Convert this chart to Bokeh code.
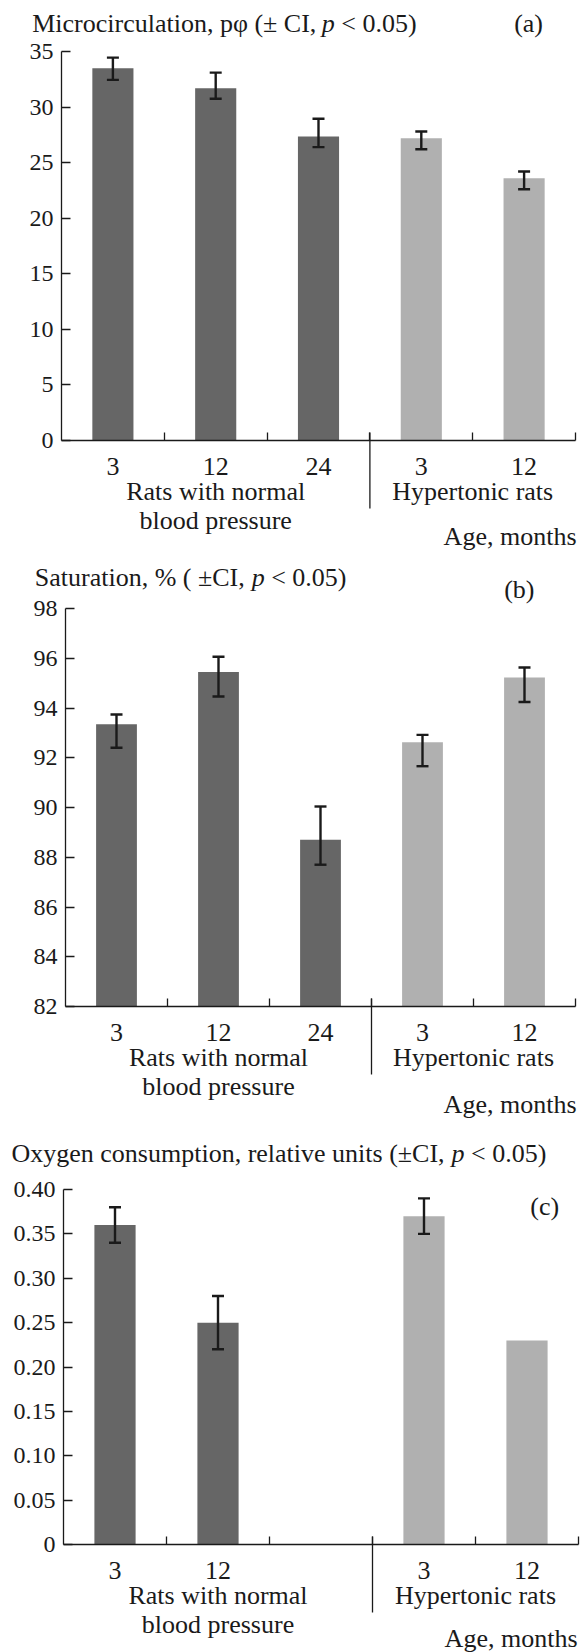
from bokeh.plotting import figure
from bokeh.models import (Range1d, FixedTicker, ColumnDataSource, Whisker, TeeHead,
                          Label, Arrow, LinearAxis)
from bokeh.layouts import column
from bokeh.embed import file_html
from bokeh.resources import INLINE

# ---------------- data ----------------
ages = ["3", "12", "24", "3", "12"]
bar_group = [0, 0, 0, 1, 1]
group_lines = [["Rats with normal", "blood pressure"], ["Hypertonic rats"]]
x_title = "Age, months"

micro_title = ["Microcirculation, p\u03c6 (\u00b1 CI, ", "p", " < 0.05)"]
micro_mean = [33.5, 31.7, 27.35, 27.2, 23.6]
micro_lower = [32.45, 30.75, 26.4, 26.2, 22.6]
micro_upper = [34.45, 33.1, 28.95, 27.8, 24.2]
micro_yticks = [0, 5, 10, 15, 20, 25, 30, 35]
micro_ylabels = ["0", "5", "10", "15", "20", "25", "30", "35"]

sat_title = ["Saturation, % ( \u00b1CI, ", "p", " < 0.05)"]
sat_mean = [93.35, 95.45, 88.7, 92.62, 95.23]
sat_lower = [92.4, 94.46, 87.7, 91.66, 94.24]
sat_upper = [93.74, 96.06, 90.04, 92.92, 95.63]
sat_yticks = [82, 84, 86, 88, 90, 92, 94, 96, 98]
sat_ylabels = ["82", "84", "86", "88", "90", "92", "94", "96", "98"]

oxy_title = ["Oxygen consumption, relative units (\u00b1CI, ", "p", " < 0.05)"]
oxy_ages = ["3", "12", "", "3", "12"]
oxy_mean = [0.36, 0.25, None, 0.37, 0.23]
oxy_lower = [0.34, 0.22, None, 0.35, None]
oxy_upper = [0.38, 0.28, None, 0.39, None]
oxy_yticks = [0, 0.05, 0.10, 0.15, 0.20, 0.25, 0.30, 0.35, 0.40]
oxy_ylabels = ["0", "0.05", "0.10", "0.15", "0.20", "0.25", "0.30", "0.35", "0.40"]

# ---------------- style ----------------
FONT = "Liberation Serif"
INK = "#1a1a1a"
GROUP_COLORS = ["#666666", "#b0b0b0"]
W = 583
FS = 26
BASE_FIX = 7.5   # renderer draws alphabetic-baseline labels this much low

# Times / Liberation Serif advance widths (per 1000 em) for title layout
CW = {' ': 250, ',': 250, '.': 250, '(': 333, ')': 333, '%': 833, '<': 564, '\u00b1': 564,
      '\u03c6': 520, 'C': 667, 'I': 333, 'M': 889, 'O': 722, 'S': 556,
      'a': 444, 'c': 444, 'e': 444, 'g': 500, 'i': 278, 'l': 278, 'm': 778, 'n': 500,
      'o': 500, 'p': 500, 'r': 333, 's': 389, 't': 278, 'u': 500, 'v': 500, 'x': 500,
      'y': 500}


def text_w(s, size):
    return sum(CW.get(ch, 500) for ch in s) * size / 1000.0


def lab(**kw):
    kw["y_offset"] = kw.get("y_offset", 0) + BASE_FIX
    kw.setdefault("text_font", FONT)
    kw.setdefault("text_font_size", f"{FS}px")
    kw.setdefault("text_color", INK)
    kw.setdefault("text_baseline", "alphabetic")
    return Label(**kw)


def panel(cfg, title, ticklabels, mean, lower, upper, yticks, ylabels, yr):
    h, T, B, L, R = cfg["h"], cfg["T"], cfg["B"], cfg["L"], cfg["R"]
    n = len(ticklabels)
    # the frame covers the whole canvas; the data box sits at [L..R] x [T..B] px
    ppx = (R - L) / n
    ppy = (B - T) / (yr[1] - yr[0])
    xr = Range1d(-L / ppx, n + (W - R) / ppx)
    yrng = Range1d(yr[0] - (h - B) / ppy, yr[1] + T / ppy)
    p = figure(width=W, height=h, x_range=xr, y_range=yrng,
               output_backend="svg", toolbar_location=None, tools="", title=None,
               x_axis_location=None, y_axis_location=None,
               min_border_left=0, min_border_right=0,
               min_border_top=0, min_border_bottom=0)
    p.outline_line_color = None
    p.grid.visible = False
    p.background_fill_color = "white"
    p.border_fill_color = "white"

    idx = [i for i in range(n) if mean[i] is not None]
    src = ColumnDataSource(dict(
        x=[i + 0.5 for i in idx],
        top=[mean[i] for i in idx],
        color=[GROUP_COLORS[bar_group[i]] for i in idx]))
    p.vbar(x="x", top="top", bottom=yr[0], width=0.4, fill_color="color",
           line_color=None, source=src)

    eidx = [i for i in range(n) if lower[i] is not None]
    esrc = ColumnDataSource(dict(
        x=[i + 0.5 for i in eidx],
        lower=[lower[i] for i in eidx],
        upper=[upper[i] for i in eidx]))
    wh = Whisker(source=esrc, base="x", lower="lower", upper="upper",
                 line_color=INK, line_width=2.4, level="overlay",
                 upper_head=TeeHead(size=12, line_color=INK, line_width=2.4),
                 lower_head=TeeHead(size=12, line_color=INK, line_width=2.4))
    p.add_layout(wh)

    # x axis: labels at slot centres, inward ticks at slot boundaries
    xa = LinearAxis(fixed_location=yr[0], bounds=(0, n))
    xa.ticker = FixedTicker(ticks=[i + 0.5 for i in range(n)],
                            minor_ticks=[i + 1 for i in range(n)])
    xa.major_label_overrides = {i + 0.5: ticklabels[i] for i in range(n)}
    xa.major_tick_line_color = None
    xa.major_tick_in = 0
    xa.major_tick_out = 0
    xa.minor_tick_in = 8
    xa.minor_tick_out = 0
    xa.minor_tick_line_color = INK
    xa.minor_tick_line_width = 1.3
    xa.axis_line_color = INK
    xa.axis_line_width = 1.3
    xa.major_label_text_font = FONT
    xa.major_label_text_font_size = f"{FS}px"
    xa.major_label_text_color = INK
    xa.major_label_standoff = cfg["xstand"]
    p.add_layout(xa, "below")

    ya = LinearAxis(fixed_location=0, bounds=yr)
    ya.ticker = FixedTicker(ticks=yticks)
    ya.major_label_overrides = dict(zip(yticks, ylabels))
    ya.major_tick_in = 9
    ya.major_tick_out = 0
    ya.minor_tick_line_color = None
    ya.major_tick_line_color = INK
    ya.major_tick_line_width = 1.3
    ya.axis_line_color = INK
    ya.axis_line_width = 1.3
    ya.major_label_text_font = FONT
    ya.major_label_text_font_size = "24px"
    ya.major_label_text_color = INK
    ya.major_label_standoff = 8
    p.add_layout(ya, "left")

    # separator between groups (extends below the axis)
    sep_x = bar_group.count(0)
    p.add_layout(Arrow(start=None, end=None, x_start=sep_x, x_end=sep_x,
                       y_start=yr[0] + 8 / ppy, y_end=yr[0] - 68 / ppy,
                       line_color=INK, line_width=1.3, level="overlay"))

    # group labels
    for g, lines in enumerate(group_lines):
        members = [i + 0.5 for i in range(n) if bar_group[i] == g]
        gx = sum(members) / len(members)
        for k, line in enumerate(lines):
            p.add_layout(lab(x=gx, y=yr[0], y_offset=-58 - 29 * k, text=line,
                             text_align="center"))
    p.add_layout(lab(x=n, y=yr[0], x_offset=cfg["age_dx"], y_offset=cfg["age_dy"],
                     text=x_title, text_align="right"))

    # title in three pieces (italic p); leading spaces become offsets
    dx = cfg["title_dx"]
    for k, part in enumerate(title):
        shown = part.lstrip(" ")
        dx += text_w(part[:len(part) - len(shown)], FS)
        p.add_layout(lab(x=0, y=yr[1], x_offset=dx, y_offset=cfg["title_dy"], text=shown,
                         text_font_style="italic" if k == 1 else "normal",
                         text_align="left"))
        dx += text_w(shown, FS)
    p.add_layout(lab(x=n, y=yr[1], x_offset=cfg["let_dx"], y_offset=cfg["let_dy"],
                     text=cfg["letter"], text_align="right"))
    return p


cfg_a = dict(h=560, T=51, B=440, L=61, R=575, xstand=17,
             title_dx=-29.3, title_dy=21, letter="(a)", let_dx=-32.5, let_dy=21,
             age_dx=1, age_dy=-103)
cfg_b = dict(h=565, T=48, B=446, L=65, R=575, xstand=17,
             title_dx=-30.7, title_dy=24, letter="(b)", let_dx=-41, let_dy=11.5,
             age_dx=1, age_dy=-105)
cfg_c = dict(h=527, T=64, B=419, L=63, R=578, xstand=17,
             title_dx=-52, title_dy=29, letter="(c)", let_dx=-19.4, let_dy=-24,
             age_dx=-1, age_dy=-101)

pa = panel(cfg_a, micro_title, ages, micro_mean, micro_lower, micro_upper,
           micro_yticks, micro_ylabels, (0, 35))
pb = panel(cfg_b, sat_title, ages, sat_mean, sat_lower, sat_upper,
           sat_yticks, sat_ylabels, (82, 98))
pc = panel(cfg_c, oxy_title, oxy_ages, oxy_mean, oxy_lower, oxy_upper,
           oxy_yticks, oxy_ylabels, (0, 0.40))

layout = column(pa, pb, pc, spacing=0)
open("out.html", "w").write(file_html(layout, INLINE))
